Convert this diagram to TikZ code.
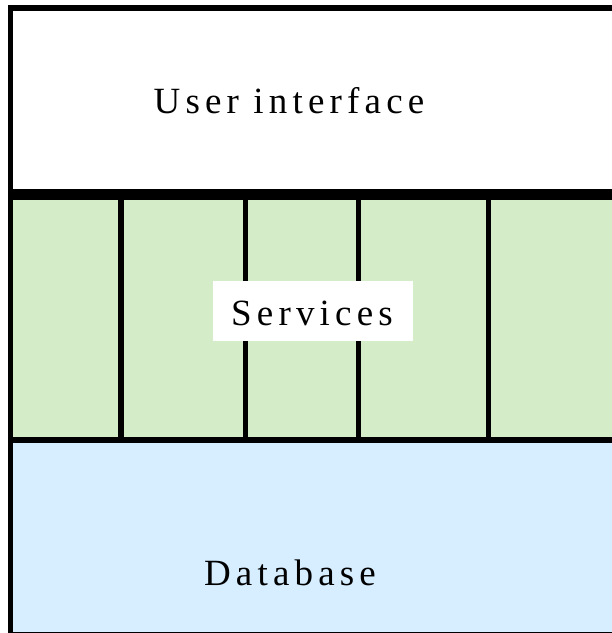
\documentclass[tikz,border=0pt]{standalone}
\usepackage{fontspec}
\setmainfont{Liberation Serif}[LetterSpace=14]
\definecolor{svcgreen}{RGB}{212,237,200}
\definecolor{dbblue}{RGB}{214,238,255}
\begin{document}
\begin{tikzpicture}[x=1pt,y=-1pt,
  label/.style={font=\fontsize{37}{40}\selectfont, anchor=base, inner sep=0pt},
  bar/.style={fill=black, draw=none}]
\useasboundingbox (0,0) rectangle (612,633);
% region fills
\fill[white] (8,5) rectangle (612,189);
\fill[svcgreen] (8,200) rectangle (612,437);
\fill[dbblue] (8,443) rectangle (612,633);
% service columns dividers
\foreach \xx in {121,245.5,358.5,488.5}
  \fill[black] (\xx-2.7,199) rectangle (\xx+2.7,438);
% frame bars
\fill[bar] (8,5) rectangle (612,11);
\fill[bar] (8,189) rectangle (612,200);
\fill[bar] (8,437) rectangle (612,443);
\fill[bar] (8,5) rectangle (13,633);
\fill[bar] (8,631.8) rectangle (612,633);
% labels
\node[label] (ui) at (289,113) {User interface};
\node[fill=white, minimum width=200pt, minimum height=60pt, inner sep=0pt] (svcbox) at (313,311) {};
\node[label] (svc) at (312,325) {Services};
\node[label] (db) at (290,585) {Database};
\end{tikzpicture}
\end{document}
